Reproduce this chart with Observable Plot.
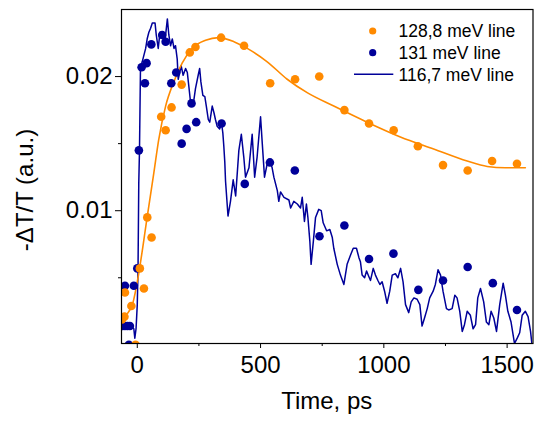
<!DOCTYPE html>
<html><head><meta charset="utf-8">
<script src="https://cdn.jsdelivr.net/npm/d3@7"></script>
<script src="https://cdn.jsdelivr.net/npm/@observablehq/plot@0.6"></script>
<style>
body{margin:0;background:#fff;color:#000;}
svg{display:block;font-family:"Liberation Sans",Arial,sans-serif;}
</style>
</head><body><div id="chart"></div>
<script>
// 128,8 meV line (orange dots)
const orangeT = [-62, -52, -50, -24, -7, 10.5, 27, 40.5, 58, 97, 115, 139, 180, 213, 236, 340, 433, 539, 640, 738, 840, 940, 1040, 1138, 1240, 1340, 1439, 1540];
const orangeV = [0.0019, 0.0021, 0.0039, 0.0029, 0.0000, 0.0057, 0.0042, 0.0095, 0.0080, 0.0170, 0.0160, 0.0177, 0.0194, 0.0218, 0.0222, 0.0229, 0.0223, 0.0195, 0.0198, 0.0200, 0.0175, 0.0165, 0.0160, 0.0148, 0.0134, 0.0130, 0.0137, 0.0135];
// orange fit curve
const fitT = [-61, -20, 0, 40, 67, 87, 115, 148, 182, 223, 277, 330, 392, 446, 527, 608, 689, 797, 932, 1067, 1202, 1338, 1419, 1493, 1574];
const fitV = [0.0020, 0.0030, 0.0047, 0.0095, 0.0128, 0.0153, 0.0178, 0.0196, 0.0210, 0.0221, 0.0227, 0.0229, 0.0226, 0.0221, 0.0211, 0.0198, 0.0188, 0.0178, 0.0166, 0.0155, 0.0146, 0.0137, 0.0133, 0.0132, 0.0132];
// 131 meV line (navy dots)
const navyT = [-60, -50, -40, -30, -50, -14, -34, 0, 6.5, 17.5, 31, 37.7, 57, 101, 115, 138, 158, 180, 200, 220, 239, 342, 436, 538, 639, 739, 840, 940, 1039, 1140, 1240, 1340, 1442, 1540];
const navyV = [0.0014, 0.0014, 0.0014, 0.0014, 0.0044, 0.0044, 0.0000, 0.0057, 0.0145, 0.0207, 0.0195, 0.0210, 0.0224, 0.0231, 0.0226, 0.0195, 0.0203, 0.0150, 0.0161, 0.0180, 0.0166, 0.0165, 0.0120, 0.0136, 0.0130, 0.0081, 0.0089, 0.0064, 0.0068, 0.0041, 0.0048, 0.0058, 0.0046, 0.0026];
// 116,7 meV line (navy trace)
const lineT = [-62,-50,-40,-30,-20,-14,-10,-5,0,3,6,9,13,20,34,40,47,54,61,72,77,85,92,101,112,122,128,135,142,149,155,162,166,172,178,186,196,203,209,216,226,236,247,253,258,266,274,280,288,294,304,311,317,324,334,342,347,351,355,358,368,378,389,399,412,422,432,439,453,466,476,486,500,507,516,527,538,547,554,568,574,581,595,615,622,635,649,662,669,678,686,692,700,705,714,723,736,746,754,768,781,791,797,811,824,838,851,865,876,889,899,905,912,922,930,939,946,957,966,976,984,993,1003,1013,1024,1034,1047,1057,1068,1078,1088,1101,1111,1122,1135,1146,1155,1165,1176,1186,1200,1209,1220,1230,1240,1254,1263,1277,1288,1297,1308,1318,1327,1338,1351,1362,1372,1381,1392,1405,1416,1426,1435,1446,1457,1470,1484,1493,1503,1516,1530,1541,1551,1561,1574,1585,1595,1601];
const lineV = [0.0015,0.0014,0.0015,0.0014,0.0013,0.0012,0.0005,0.0012,0.0030,0.0056,0.0120,0.0145,0.0207,0.0211,0.0221,0.0228,0.0233,0.0236,0.0240,0.0240,0.0231,0.0221,0.0233,0.0232,0.0226,0.0243,0.0231,0.0223,0.0228,0.0221,0.0223,0.0213,0.0198,0.0203,0.0208,0.0201,0.0206,0.0203,0.0193,0.0181,0.0178,0.0191,0.0201,0.0206,0.0196,0.0186,0.0185,0.0178,0.0168,0.0166,0.0178,0.0173,0.0168,0.0163,0.0161,0.0165,0.0158,0.0148,0.0136,0.0122,0.0096,0.0107,0.0123,0.0111,0.0145,0.0157,0.0140,0.0125,0.0132,0.0157,0.0125,0.0140,0.0170,0.0150,0.0125,0.0135,0.0137,0.0132,0.0125,0.0115,0.0107,0.0114,0.0110,0.0108,0.0102,0.0107,0.0105,0.0102,0.0110,0.0092,0.0105,0.0095,0.0077,0.0060,0.0077,0.0095,0.0101,0.0100,0.0091,0.0085,0.0086,0.0080,0.0072,0.0060,0.0052,0.0045,0.0060,0.0067,0.0072,0.0072,0.0065,0.0062,0.0052,0.0050,0.0055,0.0051,0.0048,0.0057,0.0052,0.0048,0.0045,0.0047,0.0040,0.0031,0.0040,0.0052,0.0053,0.0050,0.0057,0.0047,0.0030,0.0024,0.0032,0.0035,0.0034,0.0030,0.0014,0.0020,0.0027,0.0035,0.0040,0.0045,0.0056,0.0052,0.0040,0.0027,0.0026,0.0027,0.0037,0.0035,0.0025,0.0010,0.0015,0.0025,0.0022,0.0012,0.0015,0.0035,0.0042,0.0032,0.0017,0.0015,0.0025,0.0020,0.0010,0.0030,0.0046,0.0037,0.0025,0.0017,0.0001,0.0005,0.0009,0.0022,0.0025,0.0021,0.0010,0.0000];

const xMajorTicks = [0, 500, 1000, 1500];
const xMinorTicks = [250, 750, 1250];
const yMajorTicks = [0.01, 0.02];
const yMinorTicks = [0.005, 0.015];
const legendLabels = ["128,8 meV line", "131 meV line", "116,7 meV line"];
const xTitle = "Time, ps";
const yTitle = "-\u0394T/T (a.u.)";

const orange = "#ff8a00";
const navy = "#000099";

const zipData = (t, v) => t.map((d, i) => ({t: d, v: v[i]}));
const orangeData = zipData(orangeT, orangeV);
const fitData = zipData(fitT, fitV);
const navyData = zipData(navyT, navyV);
const lineData = zipData(lineT, lineV);

const W = 537, H = 424;
const plot = Plot.plot({
  width: W, height: H,
  marginLeft: 121, marginRight: 4.5, marginTop: 9, marginBottom: 81,
  style: {fontFamily: "Liberation Sans, Arial, sans-serif", background: "#fff", color: "#000"},
  x: {domain: [-64, 1605], label: null},
  y: {domain: [0.0001, 0.025], label: null},
  marks: [
    Plot.line(lineData, {x: "t", y: "v", stroke: navy, strokeWidth: 1.5, clip: true}),
    Plot.line(fitData, {x: "t", y: "v", stroke: orange, strokeWidth: 1.6, curve: "monotone-x", clip: true}),
    Plot.dot(navyData, {x: "t", y: "v", r: 4.3, fill: navy, stroke: "none", clip: true}),
    Plot.dot(orangeData, {x: "t", y: "v", r: 4.3, fill: orange, stroke: "none", clip: true}),
    Plot.frame({stroke: "#000", strokeWidth: 1.2}),
    Plot.axisX({ticks: xMajorTicks, tickSize: 5, tickPadding: 7, tickFormat: d => String(d), label: null, fontSize: 24, stroke: "#000", fill: "#000"}),
    Plot.axisX({ticks: xMinorTicks, tickSize: 3, tickFormat: () => "", label: null, stroke: "#000"}),
    Plot.axisY({ticks: yMajorTicks, tickSize: 6, tickPadding: 3, tickFormat: d3.format(".2f"), label: null, fontSize: 24, stroke: "#000", fill: "#000"}),
    Plot.axisY({ticks: yMinorTicks, tickSize: 3, tickFormat: () => "", label: null, stroke: "#000"})
  ]
});
document.getElementById("chart").append(plot);

const svg = d3.select(plot);
svg.append("text")
  .attr("x", 326.7).attr("y", 409)
  .attr("text-anchor", "middle").attr("font-size", 24).attr("fill", "#000")
  .text(xTitle);
svg.append("text")
  .attr("transform", "translate(33,190) rotate(-90)")
  .attr("text-anchor", "middle").attr("font-size", 24).attr("fill", "#000")
  .text(yTitle);

// legend
const lg = svg.append("g").attr("font-size", 17.5).attr("fill", "#000").attr("text-anchor", "start");
const rows = [31, 52.7, 74.3];
lg.append("circle").attr("cx", 372.7).attr("cy", rows[0]).attr("r", 3.6).attr("fill", orange);
lg.append("circle").attr("cx", 372.7).attr("cy", rows[1]).attr("r", 3.6).attr("fill", navy);
lg.append("line").attr("x1", 354).attr("x2", 393.3).attr("y1", rows[2]).attr("y2", rows[2]).attr("stroke", navy).attr("stroke-width", 1.6);
legendLabels.forEach((s, i) => {
  lg.append("text").attr("x", 398.5).attr("y", rows[i] + 6.2).attr("text-anchor", "start").text(s);
});
</script>
</body></html>
